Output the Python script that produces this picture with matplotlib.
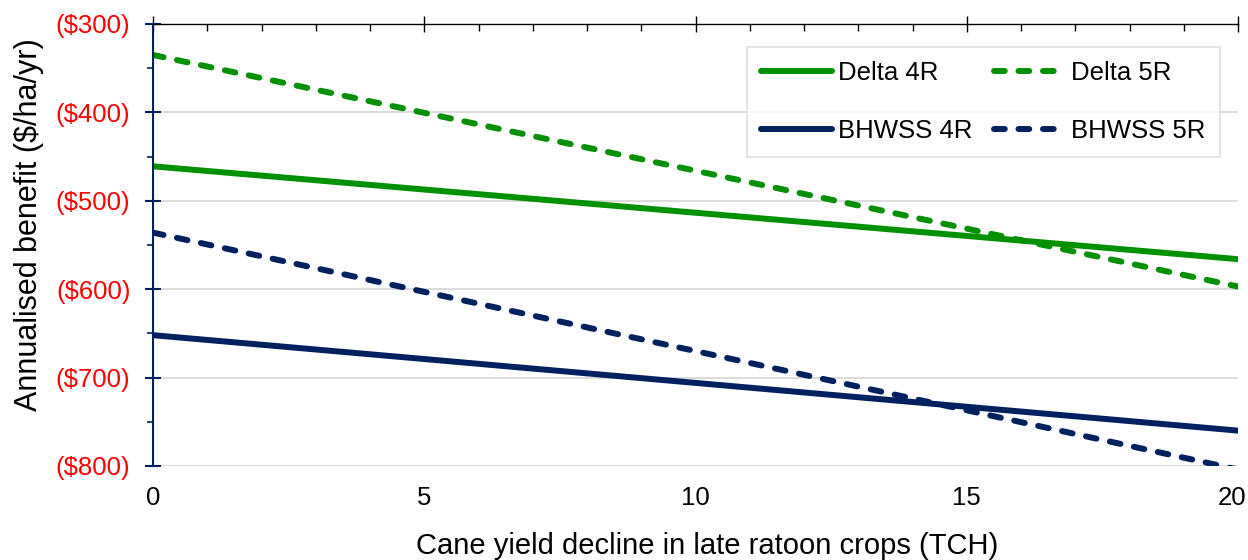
"""Annualised benefit versus late-ratoon cane yield decline."""

import matplotlib

matplotlib.use("Agg")
import matplotlib.pyplot as plt
from matplotlib.ticker import FuncFormatter, MultipleLocator
from matplotlib.transforms import ScaledTranslation

plt.rcParams["font.family"] = ["Liberation Sans", "DejaVu Sans"]

yield_decline = [0, 20]
delta_4r = [-461, -566]
delta_5r = [-335, -597]
bhwss_4r = [-652, -760]
bhwss_5r = [-536, -804]

GREEN = "#009100"
NAVY = "#002060"
TICK_SIZE = 18.5


def money(value, _pos):
    return f"(${abs(value):.0f})" if value < 0 else f"${value:.0f}"


fig = plt.figure(figsize=(12.48, 5.6), dpi=100)
ax = fig.add_axes([153 / 1248, 94 / 560, 1085 / 1248, 442 / 560])

line_kw = dict(linewidth=4.3, solid_capstyle="round")
dash_kw = dict(linewidth=4.3, dashes=(1.8, 2.3), dash_capstyle="round")
d4, = ax.plot(yield_decline, delta_4r, color=GREEN, label="Delta 4R", **line_kw)
d5, = ax.plot(yield_decline, delta_5r, color=GREEN, label="Delta 5R", **dash_kw)
b4, = ax.plot(yield_decline, bhwss_4r, color=NAVY, label="BHWSS 4R", **line_kw)
b5, = ax.plot(yield_decline, bhwss_5r, color=NAVY, label="BHWSS 5R", **dash_kw)

ax.set_xlim(0, 20)
ax.set_ylim(-800, -300)

ax.yaxis.set_major_locator(MultipleLocator(100))
ax.yaxis.set_minor_locator(MultipleLocator(50))
ax.yaxis.set_major_formatter(FuncFormatter(money))
ax.xaxis.set_major_locator(MultipleLocator(5))
ax.xaxis.set_minor_locator(MultipleLocator(1))

ax.grid(axis="y", which="major", color="#d9d9d9", linewidth=1.3)
ax.set_axisbelow(True)

# x ticks sit on the top spine, labels stay at the bottom
ax.tick_params(axis="x", which="both", bottom=False, top=True, labelbottom=True,
               labeltop=False, color="black", labelsize=TICK_SIZE, pad=9)
ax.tick_params(axis="x", which="major", direction="inout", length=11.5, width=1)
ax.tick_params(axis="x", which="minor", direction="in", length=5, width=1)
ax.tick_params(axis="y", which="both", color=NAVY, labelcolor="#ff0000",
               labelsize=TICK_SIZE)
ax.tick_params(axis="y", which="major", direction="inout", length=11.5,
               width=1.5, pad=10.5)
ax.tick_params(axis="y", which="minor", direction="out", length=4.3, width=1.2)

for side in ("right", "bottom"):
    ax.spines[side].set_visible(False)
ax.spines["top"].set_color("black")
ax.spines["top"].set_linewidth(1)
ax.spines["left"].set_color(NAVY)
ax.spines["left"].set_linewidth(1.5)

ax.set_xlabel("Cane yield decline in late ratoon crops (TCH)", fontsize=21)
ax.xaxis.set_label_coords(0.511, -0.150)
ax.set_ylabel("Annualised benefit (\\$/ha/yr)", fontsize=22)
ax.yaxis.set_label_coords(-0.1, 0.546)

legend = ax.legend([d4, b4, d5, b5], ["Delta 4R", "BHWSS 4R", "Delta 5R", "BHWSS 5R"],
                   ncol=2, loc="upper right", bbox_to_anchor=(0.9834, 0.948),
                   fontsize=TICK_SIZE, frameon=True, fancybox=False,
                   handlelength=2.75, handletextpad=0.25, columnspacing=0.85,
                   labelspacing=1.3, borderpad=0.55, borderaxespad=0)
legend.get_frame().set_edgecolor("#d9d9d9")
legend.get_frame().set_linewidth(1.3)

# keep the label at the right end of the x axis inside the figure
fig.canvas.draw()
x_max = ax.get_xlim()[1]
shift = ScaledTranslation(6 / 72, 0, fig.dpi_scale_trans)
for tick in ax.xaxis.get_major_ticks():
    if abs(tick.get_loc() - x_max) < 1e-9:
        tick.label1.set_ha("right")
        tick.label1.set_transform(tick.label1.get_transform() + shift)

fig.savefig("out.png", dpi=100)
